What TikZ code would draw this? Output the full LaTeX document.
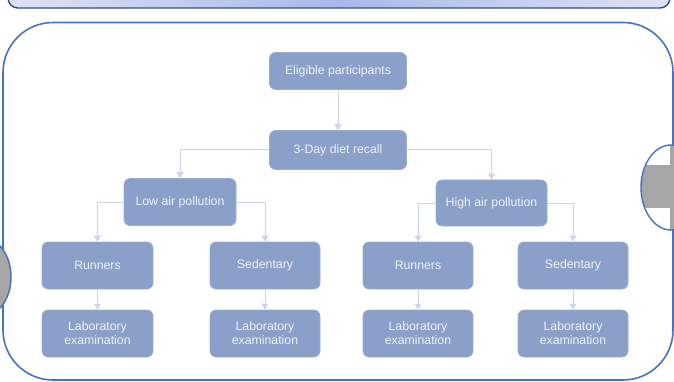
\documentclass[tikz,border=0pt]{standalone}
\usepackage{fontspec}
\setmainfont{Liberation Sans}
\usetikzlibrary{arrows.meta}
\definecolor{boxfill}{HTML}{8AA0C8}
\definecolor{boxtext}{HTML}{EEF1F8}
\definecolor{conn}{HTML}{CCD6EA}
\definecolor{frameblue}{HTML}{4472C4}
\definecolor{bardark}{HTML}{2F4F8F}
\definecolor{barmid}{HTML}{A8B8EA}
\definecolor{baredge}{HTML}{DDE3F5}
\definecolor{graybody}{HTML}{A6A6A6}
\tikzset{
  stepbox/.style={draw=boxfill!85!white, line width=0.6pt, fill=boxfill, rounded corners=6pt,
    text=boxtext, font=\fontsize{12.3}{14}\selectfont, align=center, inner sep=0pt},
  link/.style={draw=conn, line width=1pt, -{Triangle[width=7pt,length=6pt]}},
}
\begin{document}
\begin{tikzpicture}[x=1pt,y=-1pt]
\useasboundingbox (0,0) rectangle (674,382);
\clip (0,0) rectangle (674,382);
% top bar
\shade[left color=baredge, right color=baredge, middle color=barmid, rounded corners=10pt]
  (8,-30) rectangle (670,8);
\draw[bardark, line width=1.4pt, rounded corners=10pt] (8,-30) rectangle (670,8);
% main frame
\draw[frameblue, line width=1.6pt, rounded corners=50pt] (3,22.5) rectangle (673,380);
% left ellipse
\draw[frameblue, line width=1.4pt, fill=graybody] (-15,277) ellipse [x radius=26, y radius=38];
% right ellipse with arrow part
\begin{scope}
  \clip (671,187.5) ellipse [x radius=30, y radius=42.5];
  \fill[white] (671,187.5) ellipse [x radius=30, y radius=42.5];
  \fill[graybody] (635,165) rectangle (671,208);
  \fill[graybody] (670,140) rectangle (710,235);
\end{scope}
\draw[frameblue, line width=1.4pt] (671,187.5) ellipse [x radius=30, y radius=42.5];
% nodes
\node[stepbox, minimum width=137pt, minimum height=37pt] (elig) at (338,71) {Eligible participants};
\node[stepbox, minimum width=137pt, minimum height=39pt] (diet) at (338,150) {3-Day diet recall};
\node[stepbox, minimum width=112pt, minimum height=47pt] (low) at (180,202) {Low air pollution};
\node[stepbox, minimum width=111pt, minimum height=46pt] (high) at (491.5,203) {High air pollution};
\node[stepbox, minimum width=111pt, minimum height=47pt] (r1) at (97.5,265.5) {Runners};
\node[stepbox, minimum width=110pt, minimum height=47pt] (s1) at (265,265.5) {Sedentary};
\node[stepbox, minimum width=110pt, minimum height=47pt] (r2) at (418,265.5) {Runners};
\node[stepbox, minimum width=110pt, minimum height=47pt] (s2) at (573,265.5) {Sedentary};
\node[stepbox, minimum width=111pt, minimum height=47pt] (l1) at (97.5,333.5) {Laboratory\\examination};
\node[stepbox, minimum width=110pt, minimum height=47pt] (l2) at (265,333.5) {Laboratory\\examination};
\node[stepbox, minimum width=110pt, minimum height=47pt] (l3) at (418,333.5) {Laboratory\\examination};
\node[stepbox, minimum width=110pt, minimum height=47pt] (l4) at (573,333.5) {Laboratory\\examination};
% connectors
\draw[link] (elig.south) -- (diet.north);
\draw[link] (diet.west) -| (low.north);
\draw[link] (diet.east) -| (high.north);
\draw[link] (low.west) -| (r1.north);
\draw[link] (low.east) -| (s1.north);
\draw[link] (high.west) -| (r2.north);
\draw[link] (high.east) -| (s2.north);
\draw[link] (r1.south) -- (l1.north);
\draw[link] (s1.south) -- (l2.north);
\draw[link] (r2.south) -- (l3.north);
\draw[link] (s2.south) -- (l4.north);
\end{tikzpicture}
\end{document}
